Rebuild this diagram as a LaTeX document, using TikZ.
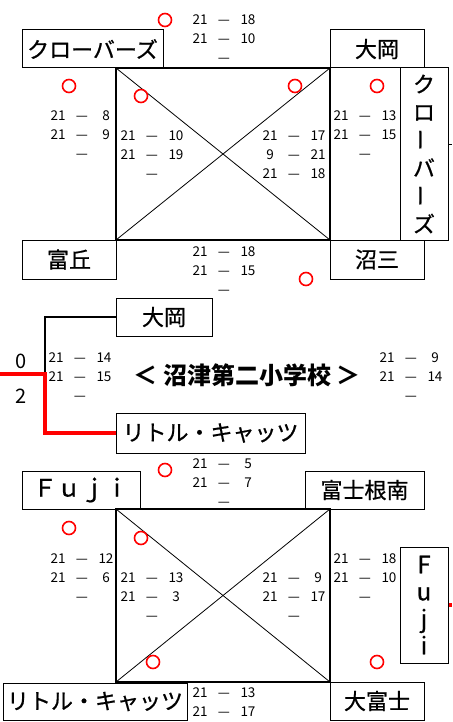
\documentclass[tikz,border=0pt]{standalone}
\usepackage{fontspec}
\usepackage{graphicx}
\setmainfont{Noto Sans CJK JP}
\newfontface\teamfont{Noto Sans CJK JP}[FakeBold=0.8]
\newcommand\scrow[2]{\makebox[24pt]{#1}\makebox[24pt]{—}\makebox[24pt]{#2}}
\newcommand\scoreC[6]{\begin{tabular}[t]{@{}c@{}}\scrow{#1}{#2}\\\scrow{#3}{#4}\\\scrow{#5}{#6}\end{tabular}}
\newcommand\scoreB[4]{\begin{tabular}[t]{@{}c@{}}\scrow{#1}{#2}\\\scrow{#3}{#4}\end{tabular}}
\newcommand\vbar{\raisebox{4pt}{\rotatebox[origin=c]{90}{ー}}}
\begin{document}
\begin{tikzpicture}[x=1pt,y=-1pt,
  team/.style={draw, line width=1pt, inner sep=0pt, font=\fontsize{22}{22}\teamfont},
  vteam/.style={team, align=center, font=\fontsize{22}{28}\teamfont},
  sq/.style={line width=2pt},
  diag/.style={line width=0.8pt},
  okmark/.style={circle, draw=red, line width=1.6pt, minimum size=13pt, inner sep=0pt},
  scorebox/.style={inner sep=0pt, anchor=base, font=\fontsize{13.5}{19}\selectfont},
  redline/.style={red, line width=3.5pt},
  blkline/.style={black, line width=1.3pt},
  big/.style={inner sep=0pt, font=\fontsize{20}{20}\selectfont}]
\useasboundingbox (0,0) rectangle (452,722);

% ---------------- top group ----------------
\coordinate (tTL) at (116,68);
\coordinate (tTR) at (330,68);
\coordinate (tBL) at (116,240);
\coordinate (tBR) at (330,240);
\draw[sq] (tTL) -- (tTR) -- (tBR) -- (tBL) -- cycle;
\draw[diag] (tTL) -- (tBR);
\draw[diag] (tTR) -- (tBL);

\node[team, minimum width=141pt, minimum height=38pt] (n1) at (92.5,49) {クローバーズ};
\node[team, minimum width=94pt, minimum height=38pt] (n2) at (377,49) {大岡};
\node[vteam, minimum width=48pt, minimum height=172pt] (n3) at (424,154) {ク\\ロ\\\vbar\\バ\\\vbar\\ズ};
\node[team, minimum width=94pt, minimum height=39pt] (n4) at (69,259.5) {富丘};
\node[team, minimum width=94pt, minimum height=39pt] (n5) at (377,259.5) {沼三};

\coordinate (re1) at (452,145);
\draw[line width=1pt] (n3.east |- re1) -- (re1);

\node[okmark] (c1) at (165,20) {};
\node[okmark] (c2) at (69,86) {};
\node[okmark] (c3) at (141,96) {};
\node[okmark] (c4) at (295,86) {};
\node[okmark] (c5) at (377,86) {};
\node[okmark] (c6) at (306,279) {};

\node[scorebox] (s1) at (224,25) {\scoreC{21}{18}{21}{10}{}{}};
\node[scorebox] (s2) at (82,121) {\scoreC{21}{8}{21}{9}{}{}};
\node[scorebox] (s3) at (152,141) {\scoreC{21}{10}{21}{19}{}{}};
\node[scorebox] (s4) at (294,141) {\scoreC{21}{17}{9}{21}{21}{18}};
\node[scorebox] (s5) at (365,121) {\scoreC{21}{13}{21}{15}{}{}};
\node[scorebox] (s6) at (224,256) {\scoreC{21}{18}{21}{15}{}{}};

% ---------------- middle ----------------
\node[team, minimum width=96pt, minimum height=38pt] (m1) at (164,317) {大岡};
\node[team, minimum width=189pt, minimum height=40pt] (m2) at (210.5,433) {リトル・キャッツ};
\coordinate (lb) at (0,374);
\coordinate (jn) at (45,374);
\draw[blkline] (m1.west) -| (jn);
\draw[redline] (lb) -- (jn) |- (m2.west);
\node[big] (z0) at (21,361) {0};
\node[big] (z2) at (21,396) {2};
\node[inner sep=0pt, font=\fontsize{24}{24}\selectfont\bfseries] (title) at (247,375) {＜ 沼津第二小学校 ＞};
\node[scorebox] (s7) at (80,362) {\scoreC{21}{14}{21}{15}{}{}};
\node[scorebox] (s8) at (411,362) {\scoreC{21}{9}{21}{14}{}{}};

% ---------------- bottom group ----------------
\coordinate (bTL) at (116,509);
\coordinate (bTR) at (330,509);
\coordinate (bBL) at (116,682);
\coordinate (bBR) at (330,682);
\draw[sq] (bTL) -- (bTR) -- (bBR) -- (bBL) -- cycle;
\draw[diag] (bTL) -- (bBR);
\draw[diag] (bTR) -- (bBL);

\node[team, minimum width=118pt, minimum height=38pt, font=\fontsize{24}{24}\teamfont] (b1) at (81,490) {Ｆｕｊｉ};
\node[team, minimum width=119pt, minimum height=38pt] (b2) at (364.5,490) {富士根南};
\node[vteam, minimum width=48pt, minimum height=116pt, font=\fontsize{24}{27}\teamfont] (b3) at (424,605) {F\\u\\j\\i};
\node[team, minimum width=184pt, minimum height=37pt] (b4) at (95,701.5) {リトル・キャッツ};
\node[team, minimum width=94pt, minimum height=38pt] (b5) at (377,701) {大富士};

\coordinate (re2) at (452,605);
\draw[redline] (b3.east) -- (re2);

\node[okmark] (d1) at (165,470) {};
\node[okmark] (d2) at (69,528) {};
\node[okmark] (d3) at (141,538) {};
\node[okmark] (d4) at (153,662) {};
\node[okmark] (d5) at (377,662) {};

\node[scorebox] (s9) at (224,468) {\scoreC{21}{5}{21}{7}{}{}};
\node[scorebox] (s10) at (82,563) {\scoreC{21}{12}{21}{6}{}{}};
\node[scorebox] (s11) at (152,582) {\scoreC{21}{13}{21}{3}{}{}};
\node[scorebox] (s12) at (294,582) {\scoreC{21}{9}{21}{17}{}{}};
\node[scorebox] (s13) at (365,563) {\scoreC{21}{18}{21}{10}{}{}};
\node[scorebox] (s14) at (224,697) {\scoreB{21}{13}{21}{17}};
\end{tikzpicture}
\end{document}
